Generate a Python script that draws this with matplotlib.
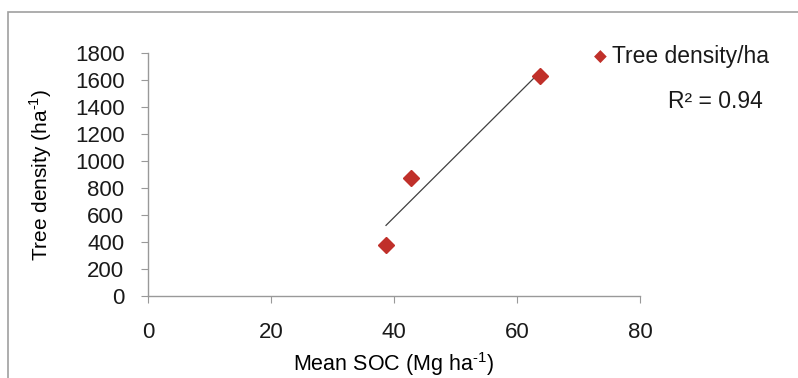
import numpy as np
import matplotlib.pyplot as plt
from matplotlib.patches import Rectangle

plt.rcParams['font.family'] = ['Liberation Sans', 'DejaVu Sans']
plt.rcParams['mathtext.fontset'] = 'custom'
plt.rcParams['mathtext.rm'] = 'Liberation Sans'

# data
mean_soc = [38.7, 42.7, 63.7]
tree_density = [380, 875, 1630]
xticks = [0, 20, 40, 60, 80]
yticks = list(range(0, 1801, 200))

W, H = 798, 378
fig = plt.figure(figsize=(W / 100, H / 100), dpi=100)

# outer chart border (clipped on right and bottom like the source)
fig.patches.append(Rectangle((8 / W, -0.1), 1.0, 1 - 12 / H + 0.1,
                             transform=fig.transFigure, fill=False,
                             edgecolor='#a0a0a0', linewidth=1.2))

ax = fig.add_axes([148 / W, 1 - 296 / H, (640 - 148) / W, (296 - 53) / H])

# linear trendline
slope, icpt = np.polyfit(mean_soc, tree_density, 1)
fit_x = np.array([min(mean_soc), max(mean_soc)])
fit_y = slope * fit_x + icpt
pred = slope * np.array(mean_soc) + icpt
r2 = 1 - np.sum((np.array(tree_density) - pred) ** 2) / np.sum((np.array(tree_density) - np.mean(tree_density)) ** 2)

ax.plot(fit_x, fit_y, color='#404040', linewidth=0.9, zorder=2)
ax.plot(mean_soc, tree_density, linestyle='none', marker='D', markersize=8.5,
        color='#c0302a', markeredgecolor='#c0302a', zorder=3)

ax.set_xlim(0, 80)
ax.set_ylim(0, 1800)
ax.set_xticks(xticks)
ax.set_yticks(yticks)

for s in ['top', 'right']:
    ax.spines[s].set_visible(False)
for s in ['left', 'bottom']:
    ax.spines[s].set_color('#999999')
    ax.spines[s].set_linewidth(1.0)

ax.tick_params(axis='both', colors='#999999', labelcolor='#1a1a1a', labelsize=16, length=5)
ax.tick_params(axis='x', pad=14)
ax.tick_params(axis='y', pad=12)

ax.set_ylabel('Tree density (ha$^{\\text{-}1}$)', fontsize=15, labelpad=15)
ax.set_xlabel('Mean SOC (Mg ha$^{\\text{-}1}$)', fontsize=15.5, labelpad=5)

# legend and R²
fig.text(600 / W, 1 - 57 / H, '\u25c6', color='#c0302a', fontsize=12, ha='center', va='center')
fig.text(612 / W, 1 - 57 / H, 'Tree density/ha', fontsize=16.5, ha='left', va='center',
         color='#1a1a1a')
fig.text(668 / W, 1 - 102 / H, f'R\u00b2 = {r2:.2f}', fontsize=16.5, ha='left', va='center',
         color='#1a1a1a')

fig.savefig('out.png', dpi=100)
